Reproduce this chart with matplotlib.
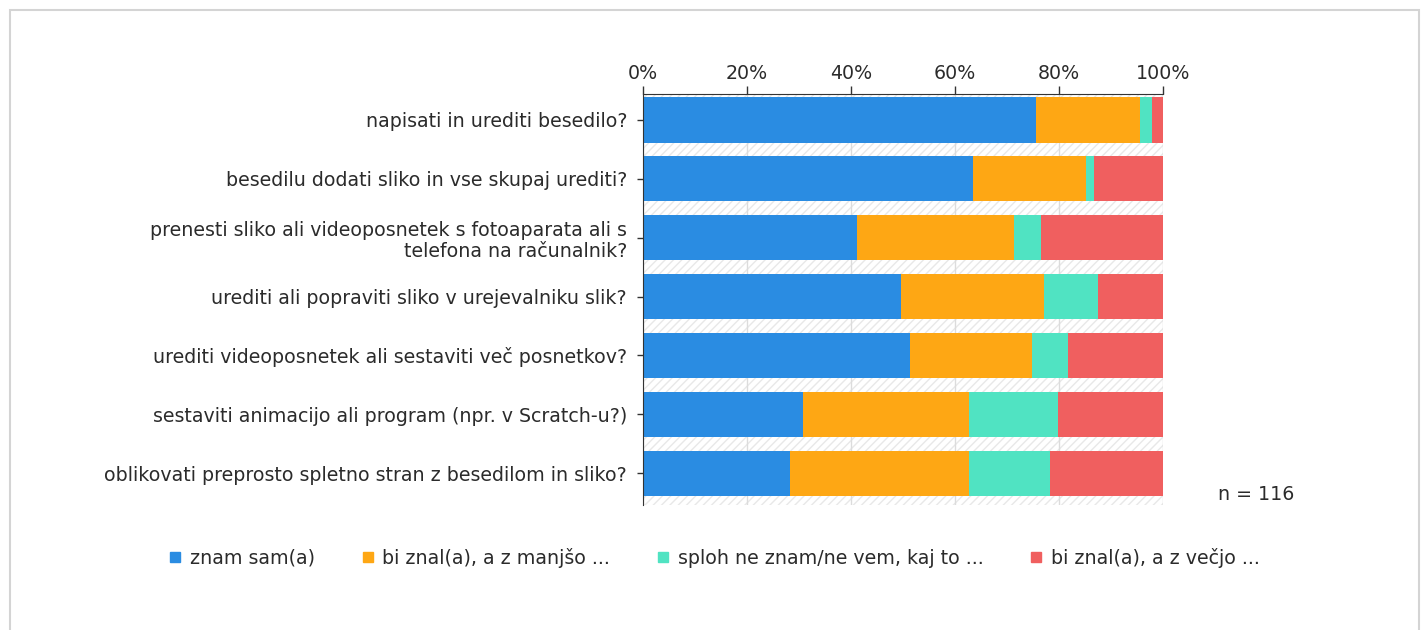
import matplotlib
matplotlib.use("Agg")
import matplotlib.pyplot as plt
from matplotlib.patches import Rectangle
from matplotlib.lines import Line2D

categories = [
    "napisati in urediti besedilo?",
    "besedilu dodati sliko in vse skupaj urediti?",
    "prenesti sliko ali videoposnetek s fotoaparata ali s\ntelefona na računalnik?",
    "urediti ali popraviti sliko v urejevalniku slik?",
    "urediti videoposnetek ali sestaviti več posnetkov?",
    "sestaviti animacijo ali program (npr. v Scratch-u?)",
    "oblikovati preprosto spletno stran z besedilom in sliko?",
]
series_names = ["znam sam(a)", "bi znal(a), a z manjšo ...",
                "sploh ne znam/ne vem, kaj to ...", "bi znal(a), a z večjo ..."]
znam = [75.5, 63.4, 41.1, 49.7, 51.4, 30.7, 28.3]
manjso = [20.1, 21.8, 30.3, 27.5, 23.4, 32.0, 34.4]
sploh = [2.3, 1.6, 5.2, 10.3, 6.9, 17.2, 15.5]
vecjo = [2.1, 13.2, 23.4, 12.5, 18.3, 20.1, 21.8]
xticks = [0, 20, 40, 60, 80, 100]
xtick_labels = ["0%", "20%", "40%", "60%", "80%", "100%"]
n_label = "n = 116"

colors = ["#2a8ce2", "#fea714", "#50e3c2", "#f05f5f"]
FS = 13.7
TXT = "#2b2b2b"

plt.rcParams['font.family'] = ['DejaVu Sans']
W, H = 1421, 630
fig = plt.figure(figsize=(W / 100, H / 100), dpi=100)

# outer frame
fig.patches.append(Rectangle((10 / W, -0.1), 1409 / W, 1 - 10 / H + 0.1,
                             transform=fig.transFigure, fill=False,
                             edgecolor="#d4d4d4", linewidth=1.5))

ax = fig.add_axes([643 / W, 1 - 505 / H, 520 / W, 411 / H])
ax.set_xlim(0, 100)
ax.set_ylim(6.54, -0.44)

# hatched background
ax.add_patch(Rectangle((0, -0.44), 100, 6.98, facecolor="white",
                       edgecolor="#e8e8e8", hatch="////", linewidth=0, zorder=0))
for x in xticks:
    ax.axvline(x, color="#dcdcdc", linewidth=1, zorder=0.5)

ypos = list(range(len(categories)))
series = [znam, manjso, sploh, vecjo]
left = [0] * len(categories)
for vals, c, name in zip(series, colors, series_names):
    ax.barh(ypos, vals, left=left, height=0.77, color=c, edgecolor="none",
            label=name, zorder=2)
    left = [l + v for l, v in zip(left, vals)]

ax.xaxis.tick_top()
ax.set_xticks(xticks)
ax.set_xticklabels(xtick_labels, fontsize=FS, color=TXT)
ax.tick_params(axis="x", direction="out", length=6, width=1, pad=2, color="#333333")
ax.set_yticks(ypos)
ax.set_yticklabels(categories, fontsize=FS, color=TXT, linespacing=1.15)
ax.tick_params(axis="y", direction="out", length=4, width=1, pad=7.5, color="#333333")
for lbl in ax.get_yticklabels():
    lbl.set_multialignment("right")

for s in ["right", "bottom"]:
    ax.spines[s].set_visible(False)
ax.spines["top"].set_color("#333333")
ax.spines["left"].set_color("#333333")

fig.text(1218 / W, 1 - 495 / H, n_label, fontsize=FS, color=TXT,
         ha="left", va="center")

handles = [Line2D([], [], marker="s", linestyle="none", markersize=7.3,
                  markerfacecolor=c, markeredgecolor=c) for c in colors]
fig.legend(handles, series_names, loc="center", bbox_to_anchor=(715 / W, 1 - 558 / H),
           ncol=4, frameon=False, fontsize=FS, handlelength=0.55,
           handletextpad=0.5, columnspacing=2.5, labelcolor=TXT)

fig.savefig("out.png", dpi=100, facecolor="white")
